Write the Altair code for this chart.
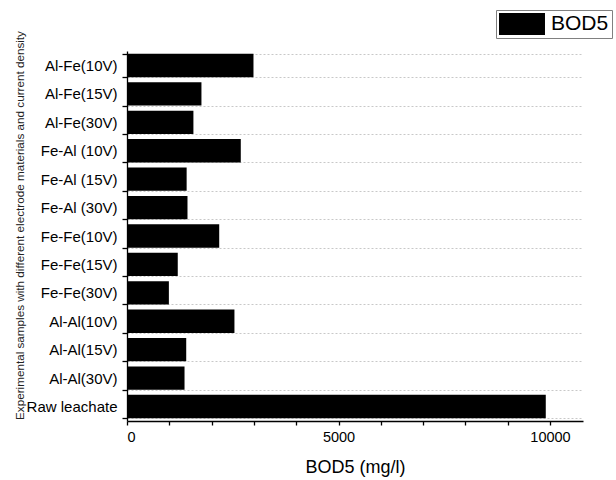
import altair as alt
import pandas as pd

samples = ["Al-Fe(10V)", "Al-Fe(15V)", "Al-Fe(30V)",
           "Fe-Al (10V)", "Fe-Al (15V)", "Fe-Al (30V)",
           "Fe-Fe(10V)", "Fe-Fe(15V)", "Fe-Fe(30V)",
           "Al-Al(10V)", "Al-Al(15V)", "Al-Al(30V)",
           "Raw leachate"]
bod5 = [2990, 1760, 1570, 2690, 1410, 1430, 2180, 1200, 990, 2540, 1400, 1360, 9900]
series_name = "BOD5"
x_ticks = [0, 1000, 2000, 3000, 4000, 5000, 6000, 7000, 8000, 9000, 10000]

df = pd.DataFrame({"sample": samples, "bod5": bod5, "series": [series_name] * len(samples)})

FONT = "Liberation Sans"

chart = alt.Chart(df).mark_bar().encode(
    y=alt.Y(
        "sample:N",
        sort=samples,
        scale=alt.Scale(paddingInner=0.18, paddingOuter=0.1),
        axis=alt.Axis(
            title="Experimental samples with different electrode materials and current density",
            tickBand="extent",
            grid=True,
            gridDash=[2, 2],
            gridColor="#c8c8c8",
            gridWidth=1,
            domainColor="black",
            domainWidth=1.3,
            tickColor="black",
            tickWidth=1.3,
            tickSize=5,
            labelFont=FONT,
            labelFontSize=15,
            labelColor="black",
            labelPadding=5,
            titleFont=FONT,
            titleFontSize=11.7,
            titleFontWeight="normal",
            titleColor="#222222",
            titleAngle=270,
            titleX=-108,
            titleY=174,
            titleAlign="center",
            titleBaseline="middle",
        ),
    ),
    x=alt.X(
        "bod5:Q",
        scale=alt.Scale(domain=[0, 10780], nice=False, zero=True),
        axis=alt.Axis(
            title="BOD5 (mg/l)",
            values=x_ticks,
            labelExpr="datum.value % 5000 == 0 ? datum.label : ''",
            format="d",
            grid=False,
            domainColor="black",
            domainWidth=1.3,
            tickColor="black",
            tickWidth=1.3,
            tickSize=4,
            labelFont=FONT,
            labelFontSize=14.5,
            labelColor="black",
            labelPadding=5,
            titleFont=FONT,
            titleFontSize=18,
            titleFontWeight="normal",
            titleColor="black",
            titleY=51,
            titleBaseline="alphabetic",
        ),
    ),
    color=alt.Color(
        "series:N",
        scale=alt.Scale(range=["black"]),
        legend=alt.Legend(
            title=None,
            orient="none",
            legendX=369,
            legendY=-41,
            strokeColor="#808080",
            padding=3,
            symbolType="M-2.09,-1L2.09,-1L2.09,1L-2.09,1Z",
            symbolSize=484,
            symbolOffset=12,
            symbolStrokeWidth=0,
            labelOffset=18,
            labelFont=FONT,
            labelFontSize=21,
            labelColor="black",
        ),
    ),
).properties(
    width=456,
    height=370,
    padding={"left": 127, "top": 51, "right": 33, "bottom": 59},
    autosize=alt.AutoSizeParams(type="none"),
).configure_view(stroke=None)

chart.save("out.html", embed_options={"renderer": "svg", "actions": False})
